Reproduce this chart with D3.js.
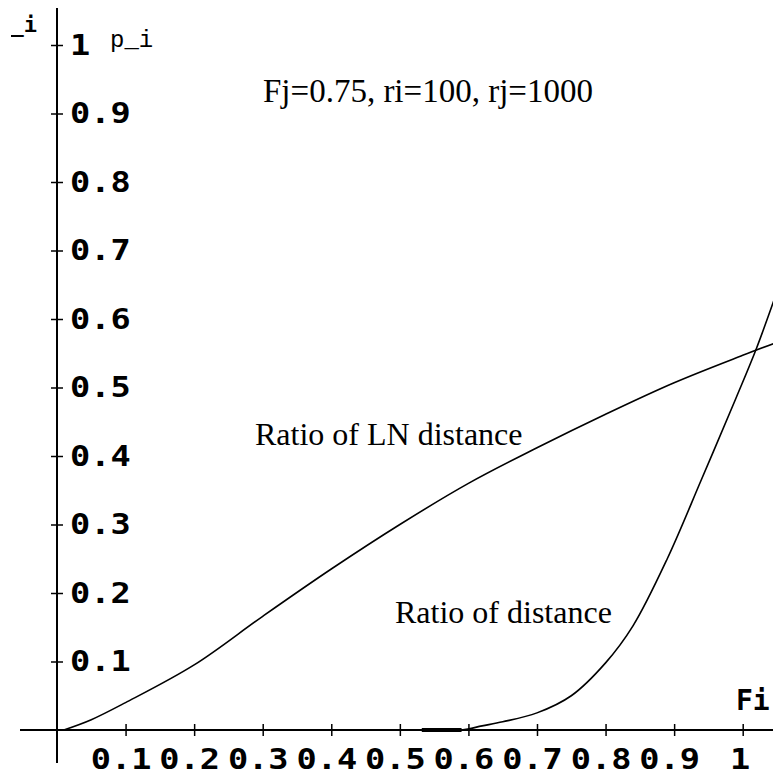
<!DOCTYPE html>
<html>
<head>
<meta charset="utf-8">
<script src="https://cdn.jsdelivr.net/npm/d3@7"></script>
<style>
  html, body { margin: 0; padding: 0; background: #fff; }
  svg { display: block; }
  .tick text { font-family: "DejaVu Sans Mono", monospace; font-weight: bold; font-size: 28px; fill: #000; }
  .serif { font-family: "Liberation Serif", "Times New Roman", serif; fill: #000; }
</style>
</head>
<body>
<svg id="chart" width="773" height="775"></svg>
<script>
// tick values
const xTicks = [0.1, 0.2, 0.3, 0.4, 0.5, 0.6, 0.7, 0.8, 0.9, 1];
const yTicks = [0.1, 0.2, 0.3, 0.4, 0.5, 0.6, 0.7, 0.8, 0.9, 1];

// "Ratio of LN distance" curve
const lnFi = [0.01, 0.05, 0.1, 0.2, 0.3, 0.4, 0.5, 0.6, 0.7, 0.8, 0.9, 1.0, 1.05];
const lnP  = [0, 0.015, 0.040, 0.095, 0.166, 0.235, 0.300, 0.360, 0.412, 0.461, 0.507, 0.547, 0.566];

// "Ratio of distance" curve
const dFi = [0.53, 0.59, 0.62, 0.65, 0.70, 0.75, 0.80, 0.84, 0.89, 0.94, 0.99, 1.02, 1.05];
const dP  = [0, 0, 0.006, 0.012, 0.025, 0.050, 0.098, 0.152, 0.250, 0.366, 0.484, 0.557, 0.640];

const svg = d3.select('#chart');

const x = d3.scaleLinear().domain([0, 1]).range([57, 742.7]);
const y = d3.scaleLinear().domain([0, 1]).range([730, 45]);

// axis lines
svg.append('line').attr('x1', 20).attr('x2', 773).attr('y1', y(0)).attr('y2', y(0))
  .attr('stroke', '#000').attr('stroke-width', 2);
svg.append('line').attr('x1', x(0)).attr('x2', x(0)).attr('y1', 8).attr('y2', 763)
  .attr('stroke', '#000').attr('stroke-width', 2);

// the tick font is a wide bitmap one, so widen the mono glyphs a bit
const sx = 1.2;

// x axis ticks
const gx = svg.append('g').attr('transform', `translate(0,${y(0)})`)
  .call(d3.axisBottom(x).tickValues(xTicks).tickFormat(d => String(d)).tickSize(6));
gx.select('.domain').remove();
gx.selectAll('.tick line').attr('y1', -6).attr('y2', 6).attr('stroke', '#000').attr('stroke-width', 1.5);
gx.selectAll('.tick text').attr('dy', null).attr('y', 39)
  .attr('x', d => (d === 1 ? -3 : -5) / sx)
  .attr('transform', `scale(${sx},1)`);

// y axis ticks
const gy = svg.append('g').attr('transform', `translate(${x(0)},0)`)
  .call(d3.axisLeft(y).tickValues(yTicks).tickFormat(d => String(d)).tickSize(6));
gy.select('.domain').remove();
gy.selectAll('.tick line').attr('x1', -6).attr('x2', 6).attr('stroke', '#000').attr('stroke-width', 1.5);
gy.selectAll('.tick text').attr('dy', null).attr('y', 9).attr('x', 13 / sx)
  .attr('text-anchor', 'start').attr('transform', `scale(${sx},1)`);

// curves
const line = d3.line().x(d => x(d[0])).y(d => y(d[1])).curve(d3.curveCatmullRom.alpha(0.5));
svg.append('path').datum(d3.zip(lnFi, lnP)).attr('d', line)
  .attr('fill', 'none').attr('stroke', '#000').attr('stroke-width', 1.6);
svg.append('path').datum(d3.zip(dFi, dP)).attr('d', line)
  .attr('fill', 'none').attr('stroke', '#000').attr('stroke-width', 1.6);
// thick stretch where the curve sits on the axis
svg.append('line').attr('x1', x(0.532)).attr('x2', x(0.59)).attr('y1', y(0)).attr('y2', y(0))
  .attr('stroke', '#000').attr('stroke-width', 4);

// axis names
svg.append('text').attr('x', 110).attr('y', 47)
  .style('font-family', '"Liberation Mono", monospace').style('font-size', '24px').text('p_i');

svg.append('clipPath').attr('id', 'cut').append('rect')
  .attr('x', 11).attr('y', 0).attr('width', 40).attr('height', 40);
svg.append('text').attr('x', 37).attr('y', 32).attr('text-anchor', 'end').attr('clip-path', 'url(#cut)')
  .style('font-family', '"DejaVu Sans Mono", monospace').style('font-weight', 'bold').style('font-size', '22px').text('p_i');

svg.append('text').attr('x', 736).attr('y', 710)
  .style('font-family', '"DejaVu Sans Mono", monospace').style('font-weight', 'bold').style('font-size', '28px').text('Fi');

// annotations
svg.append('text').attr('class', 'serif').attr('x', 263).attr('y', 102).style('font-size', '33px')
  .text('Fj=0.75, ri=100, rj=1000');
svg.append('text').attr('class', 'serif').attr('x', 255).attr('y', 445).style('font-size', '32px')
  .text('Ratio of LN distance');
svg.append('text').attr('class', 'serif').attr('x', 395).attr('y', 623).style('font-size', '32px')
  .text('Ratio of distance');
</script>
</body>
</html>
